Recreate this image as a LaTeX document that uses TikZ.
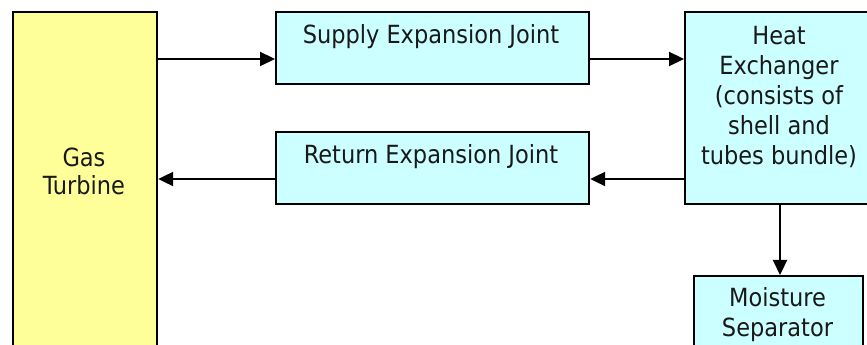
\documentclass[tikz,border=0pt]{standalone}
\usepackage{fontspec}
\setmainfont{DejaVu Sans Condensed}
\usetikzlibrary{arrows.meta}
\definecolor{gtyellow}{HTML}{FFFF99}
\definecolor{boxcyan}{HTML}{CCFFFF}
\tikzset{
  blk/.style={draw=black, line width=2.2pt, rectangle, inner sep=0pt, anchor=north west},
  txt/.style={font=\fontsize{25}{30}\selectfont, align=center, anchor=base, inner sep=0pt, text=black!90},
  arr/.style={line width=2.2pt, -{Triangle[length=15pt,width=14pt]}}
}
\begin{document}
\begin{tikzpicture}[x=1pt,y=1pt]
\useasboundingbox (0,0) rectangle (867,345);
\clip (0,0) rectangle (867,345);
% boxes
\node[blk, fill=gtyellow, minimum width=144pt, minimum height=360pt] (gt) at (12,334) {};
\node[blk, fill=boxcyan, minimum width=313pt, minimum height=72pt] (sup) at (275,334) {};
\node[blk, fill=boxcyan, minimum width=313pt, minimum height=72pt] (ret) at (275,214) {};
\node[blk, fill=boxcyan, minimum width=192pt, minimum height=192pt] (hx) at (684,334) {};
\node[blk, fill=boxcyan, minimum width=169pt, minimum height=90pt] (ms) at (693,70) {};
% texts (base = baseline of last line)
\node[txt] (tgt) at (84,150) {Gas\\[-2pt]Turbine};
\node[txt] (tsup) at (431,301) {Supply Expansion Joint};
\node[txt] (tret) at (431,181) {Return Expansion Joint};
\node[txt] (thx) at (779,180) {Heat\\Exchanger\\(consists of\\shell and\\tubes bundle)};
\node[txt] (tms) at (777.5,8) {Moisture\\Separator};
% connectors
\coordinate (ya) at (0,286);
\coordinate (yb) at (0,166);
\draw[arr] (gt.east |- ya) -- (sup.west |- ya);
\draw[arr] (sup.east |- ya) -- (hx.west |- ya);
\draw[arr] (hx.west |- yb) -- (ret.east |- yb);
\draw[arr] (ret.west |- yb) -- (gt.east |- yb);
\coordinate (xv) at (780,0);
\draw[arr] (xv |- hx.south) -- (xv |- ms.north);
\end{tikzpicture}
\end{document}
